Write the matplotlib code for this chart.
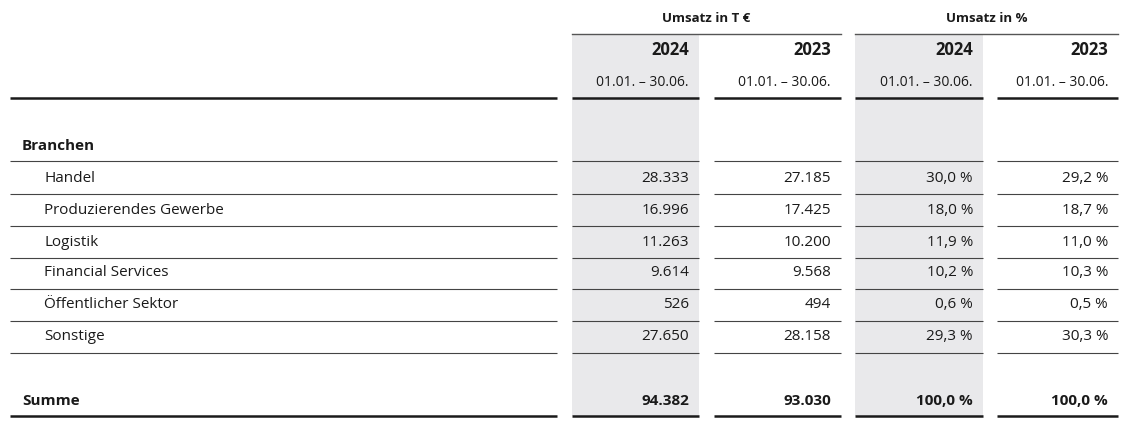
import matplotlib.pyplot as plt

# ---------------- data ----------------
group_headers = ["Umsatz in T €", "Umsatz in %"]
years = ["2024", "2023", "2024", "2023"]
period = "01.01. – 30.06."
section = "Branchen"
categories = ["Handel", "Produzierendes Gewerbe", "Logistik",
              "Financial Services", "Öffentlicher Sektor", "Sonstige"]
umsatz_2024 = ["28.333", "16.996", "11.263", "9.614", "526", "27.650"]
umsatz_2023 = ["27.185", "17.425", "10.200", "9.568", "494", "28.158"]
anteil_2024 = ["30,0 %", "18,0 %", "11,9 %", "10,2 %", "0,6 %", "29,3 %"]
anteil_2023 = ["29,2 %", "18,7 %", "11,0 %", "10,3 %", "0,5 %", "30,3 %"]
total_label = "Summe"
totals = ["94.382", "93.030", "100,0 %", "100,0 %"]

# ---------------- layout (pixels) ----------------
W, H = 1142, 422
cols = [(572, 699), (714, 841), (855, 983), (997, 1118)]
label_col = (10, 557)
shade = "#e9e9eb"
ink = "#1a1a1a"
font = "Open Sans"

fig = plt.figure(figsize=(W / 100, H / 100), dpi=100)
ax = fig.add_axes([0, 0, 1, 1])
ax.set_xlim(0, W)
ax.set_ylim(H, 0)
ax.axis("off")

# shaded columns
for i in (0, 2):
    x0, x1 = cols[i]
    ax.fill_between([x0, x1], 35, 416, color=shade, lw=0, zorder=0)

# group headers
ax.text((cols[0][0] + cols[1][1]) / 2, 18, group_headers[0], ha="center",
        va="center", fontsize=9.5, fontweight="bold", family=font, color=ink)
ax.text((cols[2][0] + cols[3][1]) / 2, 18, group_headers[1], ha="center",
        va="center", fontsize=9.5, fontweight="bold", family=font, color=ink)
ax.plot([cols[0][0], cols[1][1]], [34, 34], color="#555", lw=1)
ax.plot([cols[2][0], cols[3][1]], [34, 34], color="#555", lw=1)

pad = 10
for (x0, x1), yr in zip(cols, years):
    ax.text(x1 - pad, 50, yr, ha="right", va="center", fontsize=12,
            fontweight="bold", family=font, color=ink)
    ax.text(x1 - pad, 83, period, ha="right", va="center", fontsize=10,
            family=font, color=ink)


def hline(y, lw):
    for x0, x1 in [label_col] + cols:
        ax.plot([x0, x1], [y, y], color=ink if lw > 1 else "#444",
                lw=lw, solid_capstyle="butt")


hline(98, 1.8)

ax.text(22, 146, section, ha="left", va="center", fontsize=11,
        fontweight="bold", family=font, color=ink)
hline(161, 0.8)

row_y = [178, 210, 242, 273, 305, 337]
for k, (name, y) in enumerate(zip(categories, row_y)):
    ax.text(44, y, name, ha="left", va="center", fontsize=11,
            family=font, color=ink)
    vals = [umsatz_2024[k], umsatz_2023[k], anteil_2024[k], anteil_2023[k]]
    for (x0, x1), v in zip(cols, vals):
        ax.text(x1 - pad, y, v, ha="right", va="center", fontsize=11,
                family=font, color=ink)
    hline(y + 15.5, 0.8)

ax.text(22, 401, total_label, ha="left", va="center", fontsize=11,
        fontweight="bold", family=font, color=ink)
for (x0, x1), v in zip(cols, totals):
    ax.text(x1 - pad, 401, v, ha="right", va="center", fontsize=11,
            fontweight="bold", family=font, color=ink)
hline(416, 1.8)

fig.savefig("out.png", dpi=100, facecolor="white")
